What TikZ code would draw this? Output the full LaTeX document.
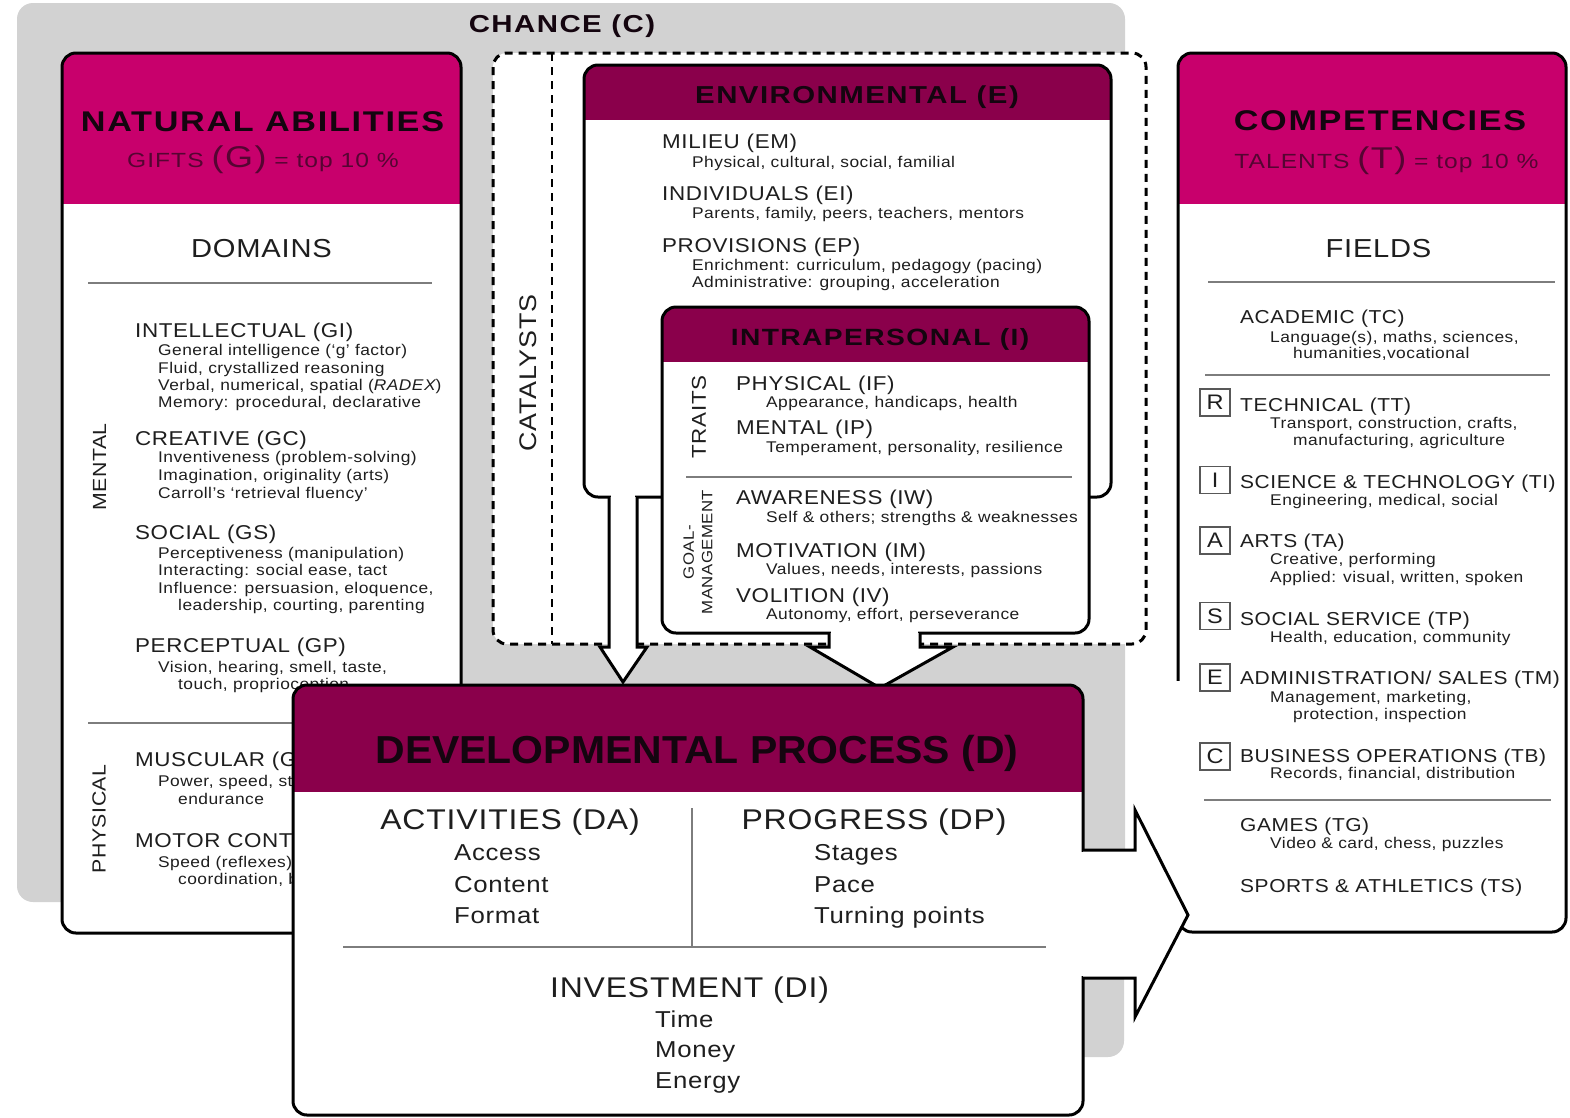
\documentclass[tikz,border=0pt]{standalone}
\usepackage{fontspec}
\setmainfont{Liberation Sans}
\newfontfamily\fa{Liberation Sans}[FakeStretch=1.12,LetterSpace=3]
\newfontfamily\ft{Liberation Sans}[FakeStretch=1.2,LetterSpace=6]
\newfontfamily\fs{Liberation Sans}[FakeStretch=1.2,LetterSpace=5]
\newfontfamily\fdv{Liberation Sans}[FakeStretch=1.05]
\newcommand\fsz[1]{\fontsize{#1}{#1}\selectfont}
\definecolor{mag}{RGB}{200,0,108}
\definecolor{maroon}{RGB}{138,0,75}
\definecolor{chance}{RGB}{210,210,210}
\definecolor{ink}{RGB}{20,5,15}
\definecolor{txt}{RGB}{30,30,30}
\definecolor{subc}{RGB}{85,5,50}
\definecolor{rulec}{RGB}{125,125,125}
\begin{document}
\begin{tikzpicture}[x=1pt,y=-1pt,
 bd/.style={line width=3pt, draw=black},
 itm/.style={anchor=base west, inner sep=0pt, text=txt, font=\fa\fsz{20}},
 citm/.style={anchor=base west, inner sep=0pt, text=txt, font=\fa\fsz{18.7}},
 sbl/.style={anchor=base west, inner sep=0pt, text=txt, font=\fa\fsz{15.5}},
 hd/.style={anchor=base, inner sep=0pt, text=txt, font=\fa\fsz{26}},
 ttl/.style={anchor=base, inner sep=0pt, text=ink, font=\ft\bfseries\fsz{28.5}},
 sttl/.style={anchor=base, inner sep=0pt, text=subc, font=\fs\fsz{20.5}},
 vt/.style={rotate=90, inner sep=0pt, text=txt},
 rule/.style={draw=rulec, line width=1.6pt},
 lbox/.style={draw=rulec!70!black, line width=1.4pt, minimum width=30pt, minimum height=27pt, inner sep=0pt, font=\fa\fsz{21}, text=txt},
 dh/.style={anchor=base, inner sep=0pt, text=txt, font=\fa\fsz{28.5}},
 ds/.style={anchor=base west, inner sep=0pt, text=txt, font=\fa\fsz{23}},
 rc/.style={rounded corners=14pt}
]
\useasboundingbox (0,0) rectangle (1570,1117);
\fill[white] (0,0) rectangle (1570,1117);

% chance background
\fill[chance, rounded corners=16pt] (17,3) rectangle (1125,902);
\fill[chance, rounded corners=16pt] (1060,690) rectangle (1124,1057);
\node[anchor=base, inner sep=0pt, text=ink, font=\ft\bfseries\fsz{24.5}] (chanceT) at (562,32) {CHANCE (C)};

% ---------- NATURAL ABILITIES ----------
\fill[white, rc] (62,53) rectangle (461,933);
\begin{scope}
 \clip[rc] (62,53) rectangle (461,933);
 \fill[mag] (62,53) rectangle (461,204);
\end{scope}
\draw[bd, rc] (62,53) rectangle (461,933);
\node[ttl] (naT) at (262.5,131) {NATURAL ABILITIES};
\node[sttl] (giftsT) at (263,167) {GIFTS {\fsz{30}(G)} = top 10 \%};
\node[hd] (domT) at (261.5,257) {DOMAINS};
\draw[rule] (88,283) -- (432,283);
\node[vt, font=\fa\fsz{19}] (mentalT) at (99.5,467) {MENTAL};
\node[itm] (gi) at (135,337) {INTELLECTUAL (GI)};
\node[sbl] (gi1) at (158,355) {General intelligence (‘g’ factor)};
\node[sbl] (gi2) at (158,373) {Fluid, crystallized reasoning};
\node[sbl] (gi3) at (158,390) {Verbal, numerical, spatial ({\itshape RADEX})};
\node[sbl] (gi4) at (158,407) {Memory: procedural, declarative};
\node[itm] (gc) at (135,445) {CREATIVE (GC)};
\node[sbl] (gc1) at (158,462) {Inventiveness (problem-solving)};
\node[sbl] (gc2) at (158,480) {Imagination, originality (arts)};
\node[sbl] (gc3) at (158,498) {Carroll’s ‘retrieval fluency’};
\node[itm] (gs) at (135,539) {SOCIAL (GS)};
\node[sbl] (gs1) at (158,558) {Perceptiveness (manipulation)};
\node[sbl] (gs2) at (158,575) {Interacting: social ease, tact};
\node[sbl] (gs3) at (158,593) {Influence: persuasion, eloquence,};
\node[sbl] (gs4) at (178,610) {leadership, courting, parenting};
\node[itm] (gp) at (135,652) {PERCEPTUAL (GP)};
\node[sbl] (gp1) at (158,672) {Vision, hearing, smell, taste,};
\node[sbl] (gp2) at (178,689) {touch, proprioception};
\draw[rule] (88,723) -- (440,723);
\node[vt, font=\fa\fsz{19}] (physT) at (99,819) {PHYSICAL};
\node[itm] (gm) at (135,766) {MUSCULAR (GM)};
\node[sbl] (gm1) at (158,786) {Power, speed, strength,};
\node[sbl] (gm2) at (178,804) {endurance};
\node[itm] (gr) at (135,847) {MOTOR CONTROL (GR)};
\node[sbl] (gr1) at (158,867) {Speed (reflexes), agility,};
\node[sbl] (gr2) at (178,884) {coordination, balance};

% ---------- COMPETENCIES ----------
\fill[white, rc] (1178,53) rectangle (1566,932);
\begin{scope}
 \clip[rc] (1178,53) rectangle (1566,932);
 \fill[mag] (1178,53) rectangle (1566,204);
\end{scope}
\draw[bd, rc] (1178,53) rectangle (1566,932);
\node[ttl] (compT) at (1380,130) {COMPETENCIES};
\node[sttl] (talT) at (1386.5,168) {TALENTS {\fsz{30}(T)} = top 10 \%};
\node[hd] (fieldT) at (1378.5,257) {FIELDS};
\draw[rule] (1208,282) -- (1555,282);
\node[citm] (tc) at (1240,323) {ACADEMIC (TC)};
\node[sbl] (tc1) at (1270,342) {Language(s), maths, sciences,};
\node[sbl] (tc2) at (1293,358) {humanities,vocational};
\draw[rule] (1205,375) -- (1550,375);
\node[lbox] (bR) at (1215,402.5) {R};
\node[citm] (tt) at (1240,411) {TECHNICAL (TT)};
\node[sbl] (tt1) at (1270,428) {Transport, construction, crafts,};
\node[sbl] (tt2) at (1293,445) {manufacturing, agriculture};
\node[lbox] (bI) at (1215,480) {I};
\node[citm] (ti) at (1240,488) {SCIENCE \& TECHNOLOGY (TI)};
\node[sbl] (ti1) at (1270,505) {Engineering, medical, social};
\node[lbox] (bA) at (1215,540.5) {A};
\node[citm] (ta) at (1240,547) {ARTS (TA)};
\node[sbl] (ta1) at (1270,564) {Creative, performing};
\node[sbl] (ta2) at (1270,582) {Applied: visual, written, spoken};
\node[lbox] (bS) at (1215,616) {S};
\node[citm] (tp) at (1240,625) {SOCIAL SERVICE (TP)};
\node[sbl] (tp1) at (1270,642) {Health, education, community};
\node[lbox] (bE) at (1215,677.5) {E};
\node[citm] (tm) at (1240,684) {ADMINISTRATION/ SALES (TM)};
\node[sbl] (tm1) at (1270,702) {Management, marketing,};
\node[sbl] (tm2) at (1293,719) {protection, inspection};
\node[lbox] (bC) at (1215,756.5) {C};
\node[citm] (tb) at (1240,762) {BUSINESS OPERATIONS (TB)};
\node[sbl] (tb1) at (1270,778) {Records, financial, distribution};
\draw[rule] (1204,800) -- (1551,800);
\node[citm] (tg) at (1240,831) {GAMES (TG)};
\node[sbl] (tg1) at (1270,848) {Video \& card, chess, puzzles};
\node[citm] (ts) at (1240,892) {SPORTS \& ATHLETICS (TS)};

% ---------- CATALYSTS ----------
\draw[line width=3pt, dash pattern=on 8pt off 6pt, rc, fill=white] (493,53) rectangle (1146,644);
\draw[line width=2.5pt, dash pattern=on 8pt off 6pt] (552,53) -- (552,644);
\node[vt, font=\fa\fsz{24}] (catT) at (528,373) {CATALYSTS};

% environmental
\fill[white, rc] (584,65) rectangle (1111,497);
\begin{scope}
 \clip[rc] (584,65) rectangle (1111,497);
 \fill[maroon] (584,65) rectangle (1111,120);
\end{scope}
\draw[bd, rc] (584,65) rectangle (1111,497);
\draw[bd, fill=white, line join=miter] (609,497) -- (609,647) -- (600,647) -- (623,682) -- (647,647) -- (637,647) -- (637,497);
\fill[white] (610.6,494) rectangle (635.4,500);
\node[anchor=base, inner sep=0pt, text=ink, font=\ft\bfseries\fsz{24.5}] (envT) at (857,103) {ENVIRONMENTAL (E)};
\node[itm] (em) at (662,148) {MILIEU (EM)};
\node[sbl] (em1) at (692,167) {Physical, cultural, social, familial};
\node[itm] (ei) at (662,200) {INDIVIDUALS (EI)};
\node[sbl] (ei1) at (692,218) {Parents, family, peers, teachers, mentors};
\node[itm] (ep) at (662,252) {PROVISIONS (EP)};
\node[sbl] (ep1) at (692,270) {Enrichment: curriculum, pedagogy (pacing)};
\node[sbl] (ep2) at (692,287) {Administrative: grouping, acceleration};

% intrapersonal
\fill[white, rc] (662,307) rectangle (1089,633);
\begin{scope}
 \clip[rc] (662,307) rectangle (1089,633);
 \fill[maroon] (662,307) rectangle (1089,362);
\end{scope}
\draw[bd, rc] (662,307) rectangle (1089,633);
\draw[bd, fill=white, line join=miter] (829,633) -- (829,647) -- (810,647) -- (880,688) -- (953,647) -- (920,647) -- (920,633);
\fill[white] (830.6,630) rectangle (918.4,636);
\node[anchor=base, inner sep=0pt, text=ink, font=\ft\bfseries\fsz{23.5}] (intT) at (880,345) {INTRAPERSONAL (I)};
\node[vt, font=\fa\fsz{20}] (traitT) at (699,417) {TRAITS};
\node[itm] (if) at (736,390) {PHYSICAL (IF)};
\node[sbl] (if1) at (766,407) {Appearance, handicaps, health};
\node[itm] (ip) at (736,434) {MENTAL (IP)};
\node[sbl] (ip1) at (766,452) {Temperament, personality, resilience};
\draw[rule] (686,477) -- (1072,477);
\node[vt, font=\fa\fontsize{15}{18.5}\selectfont, align=center] (goalT) at (698,552) {GOAL-\\MANAGEMENT};
\node[itm] (iw) at (736,504) {AWARENESS (IW)};
\node[sbl] (iw1) at (766,522) {Self \& others; strengths \& weaknesses};
\node[itm] (im) at (736,557) {MOTIVATION (IM)};
\node[sbl] (im1) at (766,574) {Values, needs, interests, passions};
\node[itm] (iv) at (736,602) {VOLITION (IV)};
\node[sbl] (iv1) at (766,619) {Autonomy, effort, perseverance};

% patch where the competencies border is hidden
\fill[white] (1126,681) rectangle (1186,919);

% ---------- DEVELOPMENTAL PROCESS ----------
\fill[white, rc] (293,685) rectangle (1083,1115);
\begin{scope}
 \clip[rc] (293,685) rectangle (1083,1115);
 \fill[maroon] (293,685) rectangle (1083,792);
\end{scope}
\draw[bd, rc] (293,685) rectangle (1083,1115);
\draw[bd, fill=white, line join=miter] (1083,850) -- (1135,850) -- (1135,810) -- (1188,915) -- (1135,1017) -- (1135,978) -- (1083,978);
\fill[white] (1080,851.6) rectangle (1086,976.4);
\node[anchor=base, inner sep=0pt, text=ink, font=\fdv\bfseries\fsz{39}] (devT) at (697,763) {DEVELOPMENTAL PROCESS (D)};
\node[dh] (da) at (510,829) {ACTIVITIES (DA)};
\node[ds] (da1) at (454,860) {Access};
\node[ds] (da2) at (454,892) {Content};
\node[ds] (da3) at (454,923) {Format};
\draw[rule] (692,808) -- (692,947);
\node[dh] (dp) at (874,829) {PROGRESS (DP)};
\node[ds] (dp1) at (814,860) {Stages};
\node[ds] (dp2) at (814,892) {Pace};
\node[ds] (dp3) at (814,923) {Turning points};
\draw[rule] (343,947) -- (1046,947);
\node[dh] (di) at (689.5,997) {INVESTMENT (DI)};
\node[ds] (di1) at (655,1027) {Time};
\node[ds] (di2) at (655,1057) {Money};
\node[ds] (di3) at (655,1088) {Energy};
\end{tikzpicture}
\end{document}
